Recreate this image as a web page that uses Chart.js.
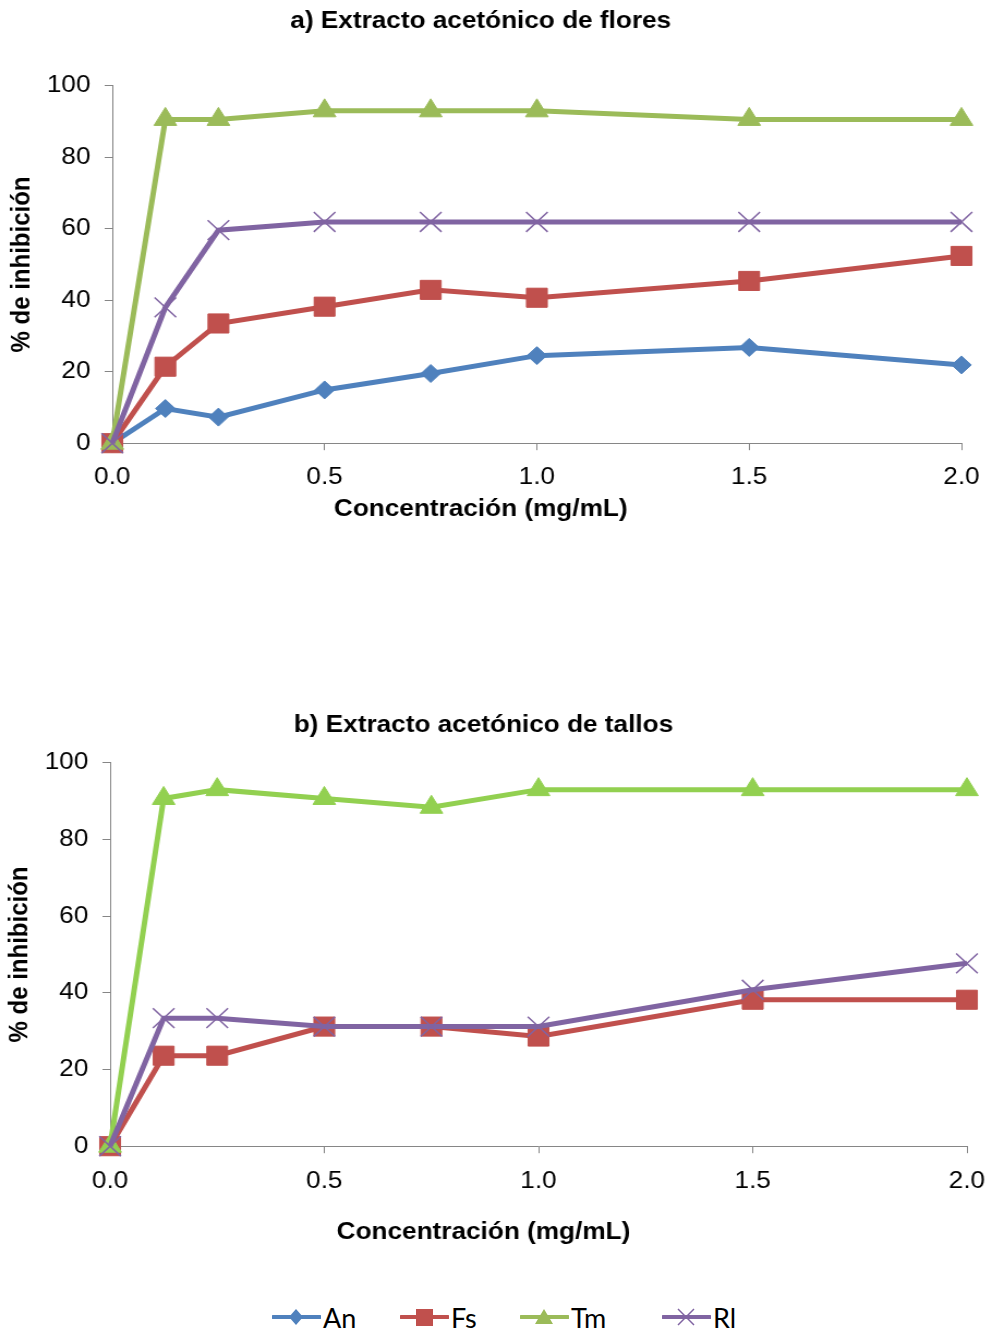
<!DOCTYPE html>
<html>
<head>
<meta charset="utf-8">
<script src="https://cdn.jsdelivr.net/npm/chart.js@4/dist/chart.umd.min.js"></script>
<style>
  html, body { margin: 0; padding: 0; background: #fff; }
  body { width: 992px; height: 1333px; position: relative; overflow: hidden; }
  .wrap { position: absolute; left: 0; width: 910px; transform: scaleX(1.0901); transform-origin: 0 0; }
  #wrapA { top: 0; height: 530px; }
  #wrapB { top: 690px; height: 570px; }
  .legend { position: absolute; top: 1302px; height: 30px; display: flex; align-items: center;
            font-family: Lato, "Open Sans", sans-serif; font-size: 27px; color: #000; }
  .legend svg { display: block; margin-right: 2px; }
</style>
</head>
<body>
<div class="wrap" id="wrapA"><canvas id="chartA" width="910" height="530"></canvas></div>
<div class="wrap" id="wrapB"><canvas id="chartB" width="910" height="570"></canvas></div>
<div id="legend"></div>
<script>
// ---------- data ----------
const concentrations = [0, 0.125, 0.25, 0.5, 0.75, 1.0, 1.5, 2.0];
const xTickValues = [0, 0.5, 1.0, 1.5, 2.0];
const yTickValues = [0, 20, 40, 60, 80, 100];

const titleA = "a) Extracto acetónico de flores";
const titleB = "b) Extracto acetónico de tallos";
const xAxisTitle = "Concentración (mg/mL)";
const yAxisTitle = "% de inhibición";
const seriesNames = ["An", "Fs", "Tm", "Rl"];

// a) flowers
const anFlores = [0, 9.7, 7.3, 14.9, 19.5, 24.5, 26.8, 21.9];
const fsFlores = [0, 21.4, 33.5, 38.2, 42.9, 40.7, 45.4, 52.4];
const tmFlores = [0, 90.6, 90.6, 93.0, 93.0, 93.0, 90.6, 90.6];
const rlFlores = [0, 38.0, 59.6, 61.9, 61.9, 61.9, 61.9, 61.9];

// b) stems
const fsTallos = [0, 23.6, 23.6, 31.2, 31.2, 28.6, 38.2, 38.2];
const tmTallos = [0, 90.7, 93.0, 90.7, 88.4, 93.0, 93.0, 93.0];
const rlTallos = [0, 33.4, 33.4, 31.2, 31.2, 31.2, 40.8, 47.7];

// ---------- styles ----------
const colAn = "#4F81BD", colFs = "#C0504D", colTmA = "#9BBB59", colTmB = "#92D050", colRl = "#8064A2";
const axisGray = "#868686";

function pts(vals) { return vals.map((v, i) => ({ x: concentrations[i], y: v })); }

function ds(label, vals, color, style, radius, order, pbw) {
  return {
    label: label, data: pts(vals),
    borderColor: color, backgroundColor: color,
    pointBackgroundColor: color, pointBorderColor: color,
    borderWidth: 5, pointStyle: style, pointRadius: radius,
    pointBorderWidth: pbw, tension: 0, clip: false, order: order
  };
}

function makeChart(id, title, titlePad, subPad, datasets, geo) {
  return new Chart(document.getElementById(id), {
    type: 'line',
    data: { datasets: datasets },
    options: {
      responsive: false, animation: false, devicePixelRatio: 1,
      layout: { padding: { left: 0, right: geo.right, top: 0, bottom: 0 } },
      plugins: {
        legend: { display: false }, tooltip: { enabled: false },
        title: { display: true, text: title, color: '#000',
                 font: { family: 'Arial, "Liberation Sans", sans-serif', size: 24, weight: 'bold' },
                 padding: titlePad },
        subtitle: { display: true, position: 'bottom', text: xAxisTitle, color: '#000',
                 font: { family: 'Arial, "Liberation Sans", sans-serif', size: 24, weight: 'bold' },
                 padding: subPad }
      },
      scales: {
        x: {
          type: 'linear', min: 0, max: 2,
          afterBuildTicks: s => { s.ticks = xTickValues.map(v => ({ value: v })); },
          afterFit: s => { s.height = geo.xh; s.paddingLeft = 0; s.paddingRight = 0; },
          ticks: { color: '#000', padding: geo.xpad, maxRotation: 0, autoSkip: false,
                   font: { family: 'Arial, "Liberation Sans", sans-serif', size: 24 },
                   callback: v => Number(v).toFixed(1) },
          grid: { display: true, drawOnChartArea: false, drawTicks: true, tickLength: 7, color: axisGray, lineWidth: 1 },
          border: { display: true, color: axisGray, width: 1 },
          title: { display: false }
        },
        y: {
          min: 0, max: 100,
          afterBuildTicks: s => { s.ticks = yTickValues.map(v => ({ value: v })); },
          afterFit: s => { s.width = geo.yw; s.paddingTop = 0; s.paddingBottom = 0; },
          ticks: { color: '#000', padding: 13,
                   font: { family: 'Arial, "Liberation Sans", sans-serif', size: 24 } },
          grid: { display: true, drawOnChartArea: false, drawTicks: true, tickLength: 7, color: axisGray, lineWidth: 1 },
          border: { display: true, color: axisGray, width: 1 },
          title: { display: true, text: yAxisTitle, color: '#000',
                   font: { family: 'Arial, "Liberation Sans", sans-serif', size: 24, weight: 'bold' },
                   padding: { top: geo.ytp, bottom: 0 } }
        }
      }
    }
  });
}

makeChart('chartA', titleA, { top: 7, bottom: 50 }, { top: 4, bottom: 6 }, [
  ds(seriesNames[0], anFlores, colAn, 'rectRot', 9, 4, 1),
  ds(seriesNames[1], fsFlores, colFs, 'rect', 13.5, 3, 1),
  ds(seriesNames[2], tmFlores, colTmA, 'triangle', 12, 2, 1),
  ds(seriesNames[3], rlFlores, colRl, 'crossRot', 14, 1, 1.5)
], { right: 28, yw: 103, xh: 48, xpad: 13, ytp: 6 });

makeChart('chartB', titleB, { top: 21, bottom: 23 }, { top: 4, bottom: 13 }, [
  ds(seriesNames[1], fsTallos, colFs, 'rect', 13.5, 3, 1),
  ds(seriesNames[2], tmTallos, colTmB, 'triangle', 12, 2, 1),
  ds(seriesNames[3], rlTallos, colRl, 'crossRot', 14, 1, 1.5)
], { right: 23, yw: 101, xh: 68, xpad: 14, ytp: 4 });

// ---------- legend (HTML, real text) ----------
const legendItems = [
  { name: seriesNames[0], color: colAn, marker: 'diamond', left: 272 },
  { name: seriesNames[1], color: colFs, marker: 'square', left: 400 },
  { name: seriesNames[2], color: colTmA, marker: 'triangle', left: 520 },
  { name: seriesNames[3], color: colRl, marker: 'cross', left: 662 }
];
const lg = document.getElementById('legend');
legendItems.forEach(it => {
  const d = document.createElement('div');
  d.className = 'legend';
  d.style.left = it.left + 'px';
  let m = '';
  const c = it.color;
  if (it.marker === 'diamond') m = `<polygon points="24,6 31,14 24,22 17,14" fill="${c}"/>`;
  if (it.marker === 'square') m = `<rect x="16" y="6" width="17" height="17" fill="${c}"/>`;
  if (it.marker === 'triangle') m = `<polygon points="24,6 33,21 15,21" fill="${c}"/>`;
  if (it.marker === 'cross') m = `<path d="M16,6 L32,22 M32,6 L16,22" stroke="${c}" stroke-width="1.5"/>`;
  d.innerHTML = `<svg width="49" height="28" viewBox="0 0 49 28"><line x1="1" y1="14" x2="48" y2="14" stroke="${c}" stroke-width="4" stroke-linecap="round"/>${m}</svg><span>${it.name}</span>`;
  lg.appendChild(d);
});
</script>
</body>
</html>
